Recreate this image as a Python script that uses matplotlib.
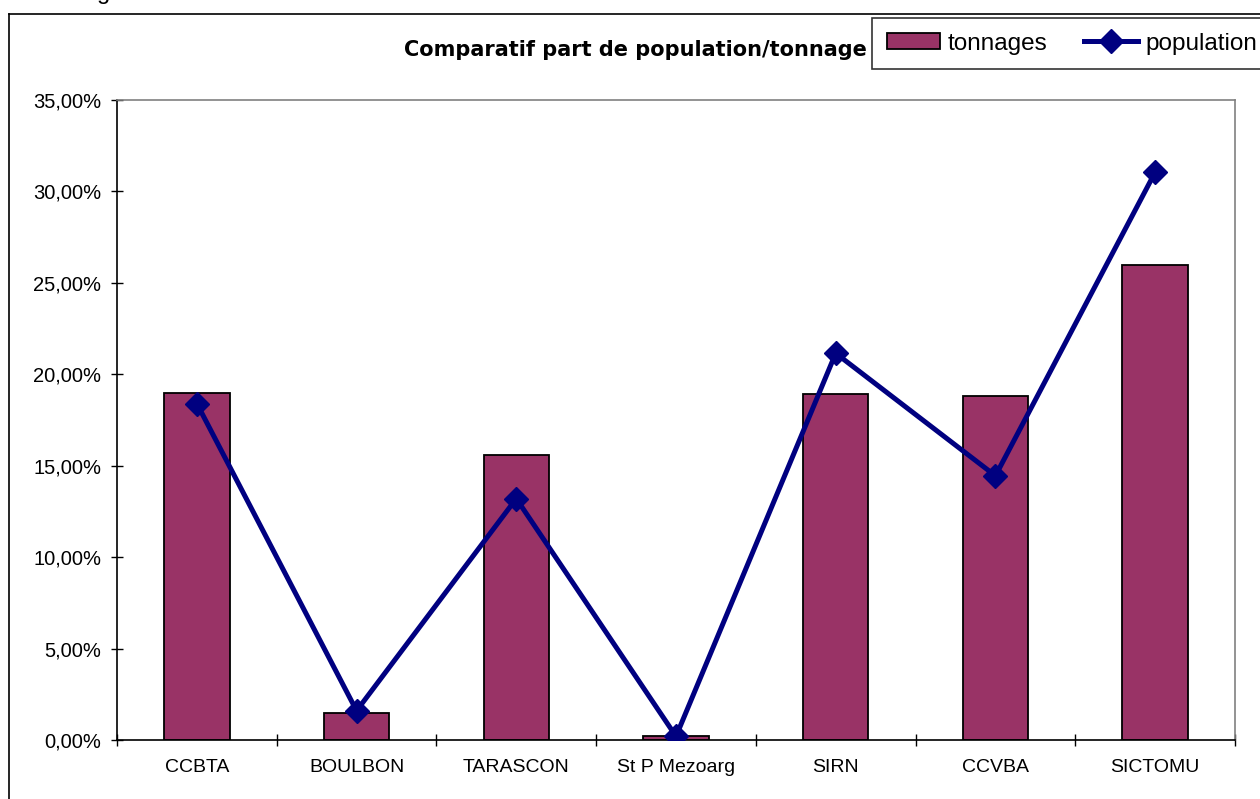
import matplotlib.pyplot as plt
from matplotlib.lines import Line2D
from matplotlib.patches import Patch
from matplotlib.ticker import FuncFormatter

categories = ["CCBTA", "BOULBON", "TARASCON", "St P Mezoarg", "SIRN", "CCVBA", "SICTOMU"]
tonnages = [19.0, 1.5, 15.6, 0.2, 18.9, 18.8, 25.95]
population = [18.4, 1.6, 13.2, 0.2, 21.15, 14.45, 31.05]

bar_color = "#993366"
line_color = "#000080"

plt.rcParams["font.family"] = ["Liberation Sans", "DejaVu Sans"]

fig = plt.figure(figsize=(12.6, 7.99), dpi=100)
W, H = 1260, 799

# outer chart frame (extends past the right/bottom edges)
fig.add_artist(Line2D([9 / W, 9 / W], [0, 1 - 14 / H], color="black", lw=1.2))
fig.add_artist(Line2D([9 / W, 1], [1 - 14 / H, 1 - 14 / H], color="black", lw=1.2))

# cut-off text above the frame
fig.text(97 / W, 1 + 1.5 / H, "g", fontsize=17, va="baseline", ha="left")

ax = fig.add_axes([117 / W, (H - 740) / H, 1118 / W, 640 / H])
x = list(range(len(categories)))
ax.bar(x, tonnages, width=0.41, color=bar_color, edgecolor="black", linewidth=1.3, zorder=2)
ax.plot(x, population, color=line_color, lw=3.6, marker="D", markersize=12, zorder=3)

ax.set_xlim(-0.5, len(categories) - 0.5)
ax.set_ylim(0, 35)
ax.set_yticks([0, 5, 10, 15, 20, 25, 30, 35])
ax.yaxis.set_major_formatter(FuncFormatter(lambda v, p: f"{v:.2f}".replace(".", ",") + "%"))
ax.set_xticks(x)
ax.set_xticklabels(categories)
ax.set_xticks([i + 0.5 for i in range(-1, len(categories))], minor=True)
ax.tick_params(axis="x", which="major", length=0, pad=14, labelsize=14)
ax.tick_params(axis="x", which="minor", direction="inout", length=9, width=1)
ax.tick_params(axis="y", direction="inout", length=9, width=1, pad=7, labelsize=14.5)

for s in ["top", "right"]:
    ax.spines[s].set_color("#808080")
    ax.spines[s].set_linewidth(1.2)
for s in ["left", "bottom"]:
    ax.spines[s].set_color("black")
    ax.spines[s].set_linewidth(1.2)

fig.text(635 / W, 1 - 50 / H, "Comparatif part de population/tonnage",
         fontsize=15, fontweight="bold", ha="center", va="center", family="DejaVu Sans")

handles = [
    Patch(facecolor=bar_color, edgecolor="black", linewidth=1.3),
    Line2D([0], [0], color=line_color, lw=3.6, marker="D", markersize=12),
]
leg = fig.legend(handles, ["tonnages", "population"], ncol=2,
                 loc="upper left", bbox_to_anchor=(872 / W, 1 - 18 / H),
                 fontsize=17.5, frameon=True, fancybox=False, borderaxespad=0,
                 handlelength=2.2, handletextpad=0.33, columnspacing=1.5,
                 borderpad=0.6, handleheight=0.6)
leg.get_frame().set_edgecolor("black")
leg.get_frame().set_linewidth(1.2)

fig.savefig("out.png", dpi=100)
